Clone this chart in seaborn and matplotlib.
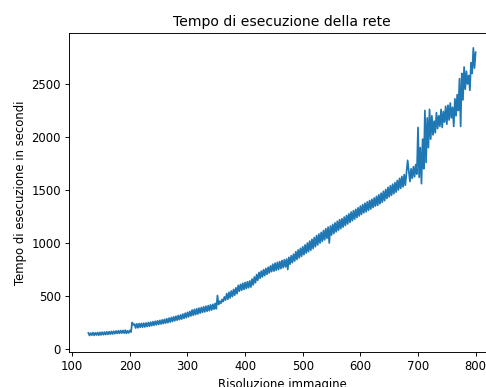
import matplotlib
matplotlib.use("Agg")
import matplotlib.pyplot as plt
import seaborn as sns
import pandas as pd

# image resolutions tested (regular grid, step 2)
resolution = list(range(128, 801, 2))

exec_time = [
    152, 128, 150, 131, 155, 129, 153, 132, 156, 130,
    157, 133, 159, 135, 160, 136, 162, 138, 164, 140,
    166, 142, 168, 145, 170, 147, 172, 148, 174, 150,
    175, 150, 178, 148, 172, 152, 176, 160, 250, 228,
    236, 198, 238, 200, 240, 205, 242, 206, 244, 208,
    246, 212, 250, 215, 254, 220, 258, 224, 262, 228,
    266, 232, 270, 236, 275, 240, 280, 244, 286, 248,
    292, 254, 298, 260, 304, 266, 310, 272, 316, 278,
    322, 282, 330, 290, 338, 296, 346, 304, 354, 312,
    368, 318, 374, 324, 380, 330, 386, 338, 392, 346,
    398, 350, 404, 356, 410, 362, 416, 368, 422, 376,
    430, 380, 505, 420, 452, 432, 468, 448, 492, 462,
    522, 470, 535, 482, 548, 495, 562, 508, 578, 522,
    600, 545, 610, 555, 620, 562, 628, 570, 635, 578,
    642, 585, 660, 605, 680, 625, 702, 648, 722, 668,
    735, 680, 748, 692, 760, 705, 772, 718, 784, 730,
    800, 735, 810, 742, 818, 750, 825, 758, 835, 768,
    842, 775, 850, 750, 865, 800, 880, 815, 895, 830,
    918, 845, 935, 860, 950, 875, 965, 890, 982, 905,
    1000, 918, 1018, 932, 1035, 948, 1052, 965, 1070, 982,
    1085, 1000, 1100, 1015, 1118, 1030, 1135, 1045, 1150, 1000,
    1160, 1075, 1175, 1090, 1190, 1105, 1205, 1120, 1220, 1135,
    1230, 1150, 1245, 1165, 1260, 1180, 1275, 1195, 1292, 1210,
    1305, 1225, 1318, 1240, 1332, 1255, 1348, 1270, 1362, 1285,
    1375, 1295, 1388, 1308, 1400, 1320, 1412, 1335, 1425, 1348,
    1440, 1355, 1455, 1370, 1470, 1385, 1488, 1400, 1505, 1420,
    1525, 1435, 1540, 1450, 1555, 1465, 1570, 1480, 1590, 1500,
    1610, 1515, 1628, 1530, 1645, 1545, 1665, 1780, 1680, 1580,
    1700, 1610, 1720, 1625, 1740, 1650,
    2090, 1620, 1900, 1560, 1980, 1700, 2250, 1760, 2180, 1900, 2260, 1980, 2200, 2020, 2150, 2040, 2230, 2080, 2200, 2100, 2260, 2090, 2240, 2140, 2290, 2120,
    2300, 2160, 2320, 2180, 2280, 2100, 2360, 2200, 2400, 2250, 2550, 2100, 2600, 2350, 2660, 2450, 2620, 2500, 2580, 2440, 2700, 2600, 2840, 2650, 2800,
]

title = "Tempo di esecuzione della rete"
xlabel = "Risoluzione immagine"
ylabel = "Tempo di esecuzione in secondi"
xticks = [100, 200, 300, 400, 500, 600, 700, 800]
yticks = [0, 500, 1000, 1500, 2000, 2500]

df = pd.DataFrame({"res": resolution, "t": exec_time})

S = 0.84  # overall scale of the reference rendering
fig = plt.figure(figsize=(4.86, 3.87), dpi=100)
ax = fig.add_axes([69 / 486, 35 / 387, (495 - 69) / 486, (352 - 33) / 387])
sns.lineplot(data=df, x="res", y="t", ax=ax, estimator=None, color="#1f77b4", linewidth=1.5 * S)

ax.set_xlim(94.4, 833.6)
ax.set_ylim(-28, 2981)
ax.set_xticks(xticks)
ax.set_yticks(yticks)
ax.set_title(title, fontsize=12 * S, pad=6 * S)
ax.set_xlabel(xlabel, fontsize=10 * S, labelpad=4 * S)
ax.set_ylabel(ylabel, fontsize=10 * S, labelpad=4 * S)
ax.tick_params(labelsize=10 * S, length=3.5 * S, width=0.8 * S, pad=3.5 * S)
for sp in ax.spines.values():
    sp.set_linewidth(0.8 * S)
ax.spines["right"].set_visible(False)

fig.savefig("out.png", dpi=100)
